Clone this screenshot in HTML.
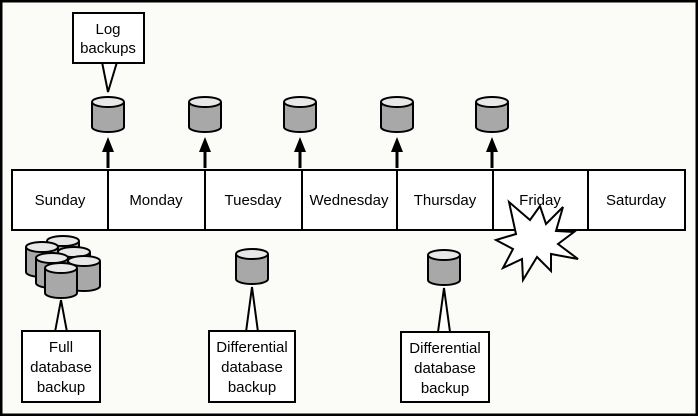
<!DOCTYPE html>
<html><head><meta charset="utf-8"><style>
html,body{margin:0;padding:0;background:#fbfbf7}
svg{display:block}
text{font-family:"Liberation Sans",sans-serif;font-size:15px;fill:#000}
</style></head><body>
<svg width="698" height="416" viewBox="0 0 698 416" xmlns="http://www.w3.org/2000/svg">
<defs>
<g id="cyl">
<path d="M-16,5 L-16,30 A16,5 0 0 0 16,30 L16,5" fill="#a8a8a8" stroke="#000" stroke-width="2"/>
<ellipse cx="0" cy="5" rx="16" ry="5" fill="#e8e8e8" stroke="#000" stroke-width="2"/>
</g>
<g id="arr">
<line x1="0" y1="168" x2="0" y2="148" stroke="#000" stroke-width="3"/>
<polygon points="0,137 -6,152 6,152" fill="#000"/>
</g>
</defs>
<rect x="1" y="1" width="696" height="414" fill="#fbfbf7" stroke="#000" stroke-width="3"/>
<rect x="12" y="170" width="673" height="60" fill="#fff" stroke="#000" stroke-width="2"/>
<g stroke="#000" stroke-width="2">
<line x1="108" y1="170" x2="108" y2="230"/><line x1="205" y1="170" x2="205" y2="230"/>
<line x1="302" y1="170" x2="302" y2="230"/><line x1="397" y1="170" x2="397" y2="230"/>
<line x1="493" y1="170" x2="493" y2="230"/><line x1="588" y1="170" x2="588" y2="230"/>
</g>
<g text-anchor="middle">
<text x="60" y="205">Sunday</text><text x="156" y="205">Monday</text>
<text x="253" y="205">Tuesday</text><text x="349" y="205">Wednesday</text>
<text x="445" y="205">Thursday</text><text x="540" y="205">Friday</text>
<text x="636" y="205">Saturday</text>
</g>
<use href="#cyl" x="108" y="97"/><use href="#cyl" x="205" y="97"/><use href="#cyl" x="300" y="97"/>
<use href="#cyl" x="397" y="97"/><use href="#cyl" x="492" y="97"/>
<use href="#arr" x="108"/><use href="#arr" x="205"/><use href="#arr" x="300"/>
<use href="#arr" x="397"/><use href="#arr" x="492"/>
<polygon points="102,62 108,92 117,62" fill="#fff" stroke="#000" stroke-width="2"/>
<rect x="73" y="13" width="71" height="50" fill="#fff" stroke="#000" stroke-width="2"/>
<text x="108" y="34" text-anchor="middle">Log</text>
<text x="108" y="53" text-anchor="middle">backups</text>
<use href="#cyl" x="63" y="236"/>
<use href="#cyl" x="42" y="242"/>
<use href="#cyl" x="74" y="247"/>
<use href="#cyl" x="52" y="253"/>
<use href="#cyl" x="84" y="256"/>
<use href="#cyl" x="61" y="263"/>
<polygon points="55,332 61,300 67,332" fill="#fff" stroke="#000" stroke-width="2"/>
<rect x="22" y="331" width="78" height="71" fill="#fff" stroke="#000" stroke-width="2"/>
<g text-anchor="middle"><text x="61" y="352">Full</text><text x="61" y="372">database</text><text x="61" y="392">backup</text></g>
<use href="#cyl" x="252" y="249"/>
<polygon points="246,332 252,287 258,332" fill="#fff" stroke="#000" stroke-width="2"/>
<rect x="209" y="331" width="86" height="71" fill="#fff" stroke="#000" stroke-width="2"/>
<g text-anchor="middle"><text x="252" y="352">Differential</text><text x="252" y="372">database</text><text x="252" y="392">backup</text></g>
<use href="#cyl" x="444" y="250"/>
<polygon points="438,332 444,288 450,332" fill="#fff" stroke="#000" stroke-width="2"/>
<rect x="401" y="332" width="88" height="70" fill="#fff" stroke="#000" stroke-width="2"/>
<g text-anchor="middle"><text x="445" y="353">Differential</text><text x="445" y="373">database</text><text x="445" y="393">backup</text></g>
<polygon points="509,202 530,220 540,206 546,224 563,207 556,231 574,232 558,244 578,259 551,254 551,271 537,257 523,280 522,259 503,268 513,249 496,240 516,234" fill="#fff" stroke="#000" stroke-width="2"/>
</svg>
</body></html>
